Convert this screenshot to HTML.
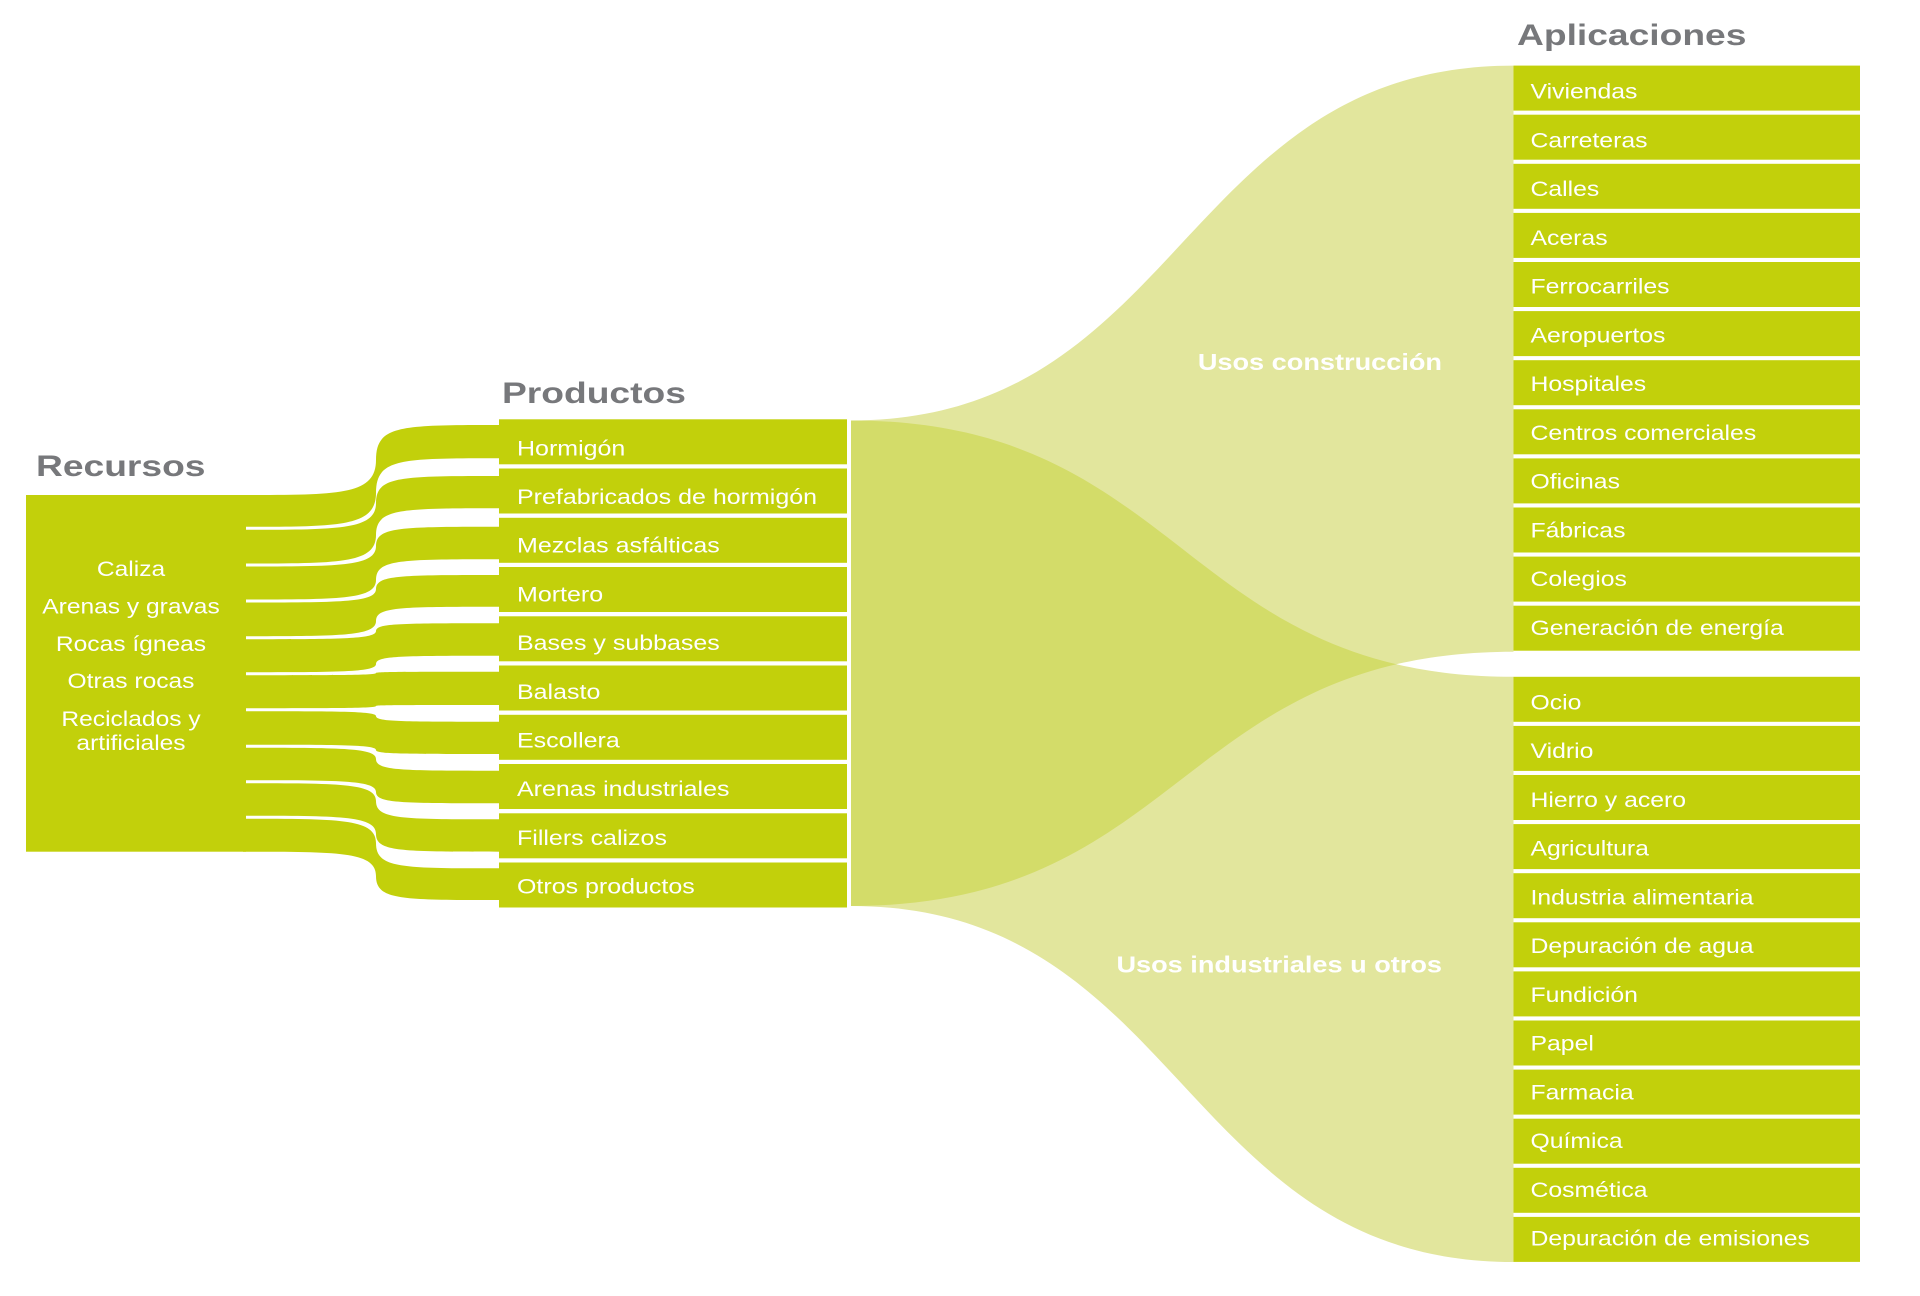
<!DOCTYPE html>
<html><head><meta charset="utf-8"><style>
html,body{margin:0;padding:0;background:#fff;}
svg{display:block;}
text{font-family:"Liberation Sans",Arial,sans-serif;}
.t{fill:#77787b;font-weight:bold;font-size:30px;}
.w{fill:#fff;font-size:21px;}
.b{fill:#fff;font-size:23px;font-weight:bold;text-anchor:end;}
.c{text-anchor:middle;}
</style></head><body>
<svg width="1920" height="1296" viewBox="0 0 1920 1296" xmlns="http://www.w3.org/2000/svg">
<defs>
<clipPath id="cc"><path d="M851,420.5 C1182,420.5 1182,65.6 1513.5,65.6 L1513.5,651.7 C1182,651.7 1182,906 851,906 Z"/></clipPath>
</defs>
<path d="M851,420.5 C1182,420.5 1182,65.6 1513.5,65.6 L1513.5,651.7 C1182,651.7 1182,906 851,906 Z" fill="#e2e69d"/>
<path d="M851,420.5 C1182,420.5 1182,676.8 1513.5,676.8 L1513.5,1262 C1182,1262 1182,906 851,906 Z" fill="#e2e69d"/>
<path d="M851,420.5 C1182,420.5 1182,676.8 1513.5,676.8 L1513.5,1262 C1182,1262 1182,906 851,906 Z" fill="#d3dc69" clip-path="url(#cc)"/>

<rect x="26" y="495" width="220" height="356.7" fill="#c2d00b"/>
<g fill="#c2d00b">
<path d="M243,495 C340,495 376,495 376,460 C376,425 400,425 501,425 L501,458.3 C400,458.3 376,458.3 376,493 C376,526.8 340,526.8 243,526.8 Z"/>
<path d="M243,529.8 C340,529.8 376,529.8 376,503 C376,476 400,476 501,476 L501,508.3 C400,508.3 376,508.3 376,535 C376,563.5 340,563.5 243,563.5 Z"/>
<path d="M243,566.5 C340,566.5 376,566.5 376,546 C376,526.7 400,526.7 501,526.7 L501,559.3 C400,559.3 376,559.3 376,580 C376,599.5 340,599.5 243,599.5 Z"/>
<path d="M243,602.5 C340,602.5 376,602.5 376,589 C376,575 400,575 501,575 L501,606.7 C400,606.7 376,606.7 376,621 C376,636.2 340,636.2 243,636.2 Z"/>
<path d="M243,639.2 C340,639.2 376,639.2 376,631 C376,623.3 400,623.3 501,623.3 L501,655.7 C400,655.7 376,655.7 376,664 C376,672.2 340,672.2 243,672.2 Z"/>
<path d="M243,675.2 C340,675.2 376,675.2 376,673 C376,671.7 400,671.7 501,671.7 L501,705 C400,705 376,705 376,706 C376,708.2 340,708.2 243,708.2 Z"/>
<path d="M243,711.2 C340,711.2 376,711.2 376,716 C376,721.7 400,721.7 501,721.7 L501,754 C400,754 376,754 376,750 C376,744.8 340,744.8 243,744.8 Z"/>
<path d="M243,747.8 C340,747.8 376,747.8 376,759 C376,770.7 400,770.7 501,770.7 L501,803.3 C400,803.3 376,803.3 376,792 C376,780.2 340,780.2 243,780.2 Z"/>
<path d="M243,783.2 C340,783.2 376,783.2 376,801 C376,819.3 400,819.3 501,819.3 L501,851.7 C400,851.7 376,851.7 376,834 C376,815.8 340,815.8 243,815.8 Z"/>
<path d="M243,818.8 C340,818.8 376,818.8 376,843 C376,868.3 400,868.3 501,868.3 L501,900 C400,900 376,900 376,876 C376,851.7 340,851.7 243,851.7 Z"/>
</g>
<g fill="#c2d00b">
<rect x="499" y="419.3" width="348" height="45"/>
<rect x="499" y="468.5" width="348" height="45"/>
<rect x="499" y="517.8" width="348" height="45"/>
<rect x="499" y="567" width="348" height="45"/>
<rect x="499" y="616.3" width="348" height="45"/>
<rect x="499" y="665.5" width="348" height="45"/>
<rect x="499" y="714.8" width="348" height="45"/>
<rect x="499" y="764" width="348" height="45"/>
<rect x="499" y="813.3" width="348" height="45"/>
<rect x="499" y="862.5" width="348" height="45"/>
</g>
<g fill="#c2d00b">
<rect x="1513.5" y="65.6" width="346.5" height="45"/>
<rect x="1513.5" y="114.7" width="346.5" height="45"/>
<rect x="1513.5" y="163.8" width="346.5" height="45"/>
<rect x="1513.5" y="212.9" width="346.5" height="45"/>
<rect x="1513.5" y="262" width="346.5" height="45"/>
<rect x="1513.5" y="311.1" width="346.5" height="45"/>
<rect x="1513.5" y="360.2" width="346.5" height="45"/>
<rect x="1513.5" y="409.3" width="346.5" height="45"/>
<rect x="1513.5" y="458.4" width="346.5" height="45"/>
<rect x="1513.5" y="507.5" width="346.5" height="45"/>
<rect x="1513.5" y="556.6" width="346.5" height="45"/>
<rect x="1513.5" y="605.7" width="346.5" height="45"/>
<rect x="1513.5" y="676.8" width="346.5" height="45"/>
<rect x="1513.5" y="725.9" width="346.5" height="45"/>
<rect x="1513.5" y="775" width="346.5" height="45"/>
<rect x="1513.5" y="824.1" width="346.5" height="45"/>
<rect x="1513.5" y="873.2" width="346.5" height="45"/>
<rect x="1513.5" y="922.3" width="346.5" height="45"/>
<rect x="1513.5" y="971.4" width="346.5" height="45"/>
<rect x="1513.5" y="1020.5" width="346.5" height="45"/>
<rect x="1513.5" y="1069.6" width="346.5" height="45"/>
<rect x="1513.5" y="1118.7" width="346.5" height="45"/>
<rect x="1513.5" y="1167.8" width="346.5" height="45"/>
<rect x="1513.5" y="1216.9" width="346.5" height="45"/>
</g>

<text class="t" transform="matrix(1.24 0 0 1 36 476)">Recursos</text>
<text class="t" transform="matrix(1.24 0 0 1 502 403)">Productos</text>
<text class="t" transform="matrix(1.24 0 0 1 1517 45)">Aplicaciones</text>

<g class="w">
<text class="c" transform="matrix(1.17 0 0 1 131 576)">Caliza</text>
<text class="c" transform="matrix(1.17 0 0 1 131 613.5)">Arenas y gravas</text>
<text class="c" transform="matrix(1.17 0 0 1 131 651)">Rocas ígneas</text>
<text class="c" transform="matrix(1.17 0 0 1 131 688)">Otras rocas</text>
<text class="c" transform="matrix(1.17 0 0 1 131 726)">Reciclados y</text>
<text class="c" transform="matrix(1.17 0 0 1 131 750)">artificiales</text>
</g>

<g class="w">
<text transform="matrix(1.19 0 0 1 517 455.3)">Hormigón</text>
<text transform="matrix(1.19 0 0 1 517 504)">Prefabricados de hormigón</text>
<text transform="matrix(1.19 0 0 1 517 552.7)">Mezclas asfálticas</text>
<text transform="matrix(1.19 0 0 1 517 601.4)">Mortero</text>
<text transform="matrix(1.19 0 0 1 517 650.1)">Bases y subbases</text>
<text transform="matrix(1.19 0 0 1 517 698.8)">Balasto</text>
<text transform="matrix(1.19 0 0 1 517 747.5)">Escollera</text>
<text transform="matrix(1.19 0 0 1 517 796.2)">Arenas industriales</text>
<text transform="matrix(1.19 0 0 1 517 844.9)">Fillers calizos</text>
<text transform="matrix(1.19 0 0 1 517 893.6)">Otros productos</text>
</g>

<g class="w">
<text transform="matrix(1.18 0 0 1 1530.5 98.6)">Viviendas</text>
<text transform="matrix(1.18 0 0 1 1530.5 147.4)">Carreteras</text>
<text transform="matrix(1.18 0 0 1 1530.5 196.1)">Calles</text>
<text transform="matrix(1.18 0 0 1 1530.5 244.9)">Aceras</text>
<text transform="matrix(1.18 0 0 1 1530.5 293.6)">Ferrocarriles</text>
<text transform="matrix(1.18 0 0 1 1530.5 342.4)">Aeropuertos</text>
<text transform="matrix(1.18 0 0 1 1530.5 391.2)">Hospitales</text>
<text transform="matrix(1.18 0 0 1 1530.5 439.9)">Centros comerciales</text>
<text transform="matrix(1.18 0 0 1 1530.5 488.7)">Oficinas</text>
<text transform="matrix(1.18 0 0 1 1530.5 537.4)">Fábricas</text>
<text transform="matrix(1.18 0 0 1 1530.5 586.2)">Colegios</text>
<text transform="matrix(1.18 0 0 1 1530.5 635)">Generación de energía</text>
<text transform="matrix(1.18 0 0 1 1530.5 709.3)">Ocio</text>
<text transform="matrix(1.18 0 0 1 1530.5 758.1)">Vidrio</text>
<text transform="matrix(1.18 0 0 1 1530.5 806.8)">Hierro y acero</text>
<text transform="matrix(1.18 0 0 1 1530.5 855.6)">Agricultura</text>
<text transform="matrix(1.18 0 0 1 1530.5 904.3)">Industria alimentaria</text>
<text transform="matrix(1.18 0 0 1 1530.5 953.1)">Depuración de agua</text>
<text transform="matrix(1.18 0 0 1 1530.5 1001.9)">Fundición</text>
<text transform="matrix(1.18 0 0 1 1530.5 1050.6)">Papel</text>
<text transform="matrix(1.18 0 0 1 1530.5 1099.4)">Farmacia</text>
<text transform="matrix(1.18 0 0 1 1530.5 1148.1)">Química</text>
<text transform="matrix(1.18 0 0 1 1530.5 1196.9)">Cosmética</text>
<text transform="matrix(1.18 0 0 1 1530.5 1245.7)">Depuración de emisiones</text>
</g>

<text class="b" transform="matrix(1.18 0 0 1 1442 370)">Usos construcción</text>
<text class="b" transform="matrix(1.18 0 0 1 1442 972.5)">Usos industriales u otros</text>
</svg>
</body></html>
